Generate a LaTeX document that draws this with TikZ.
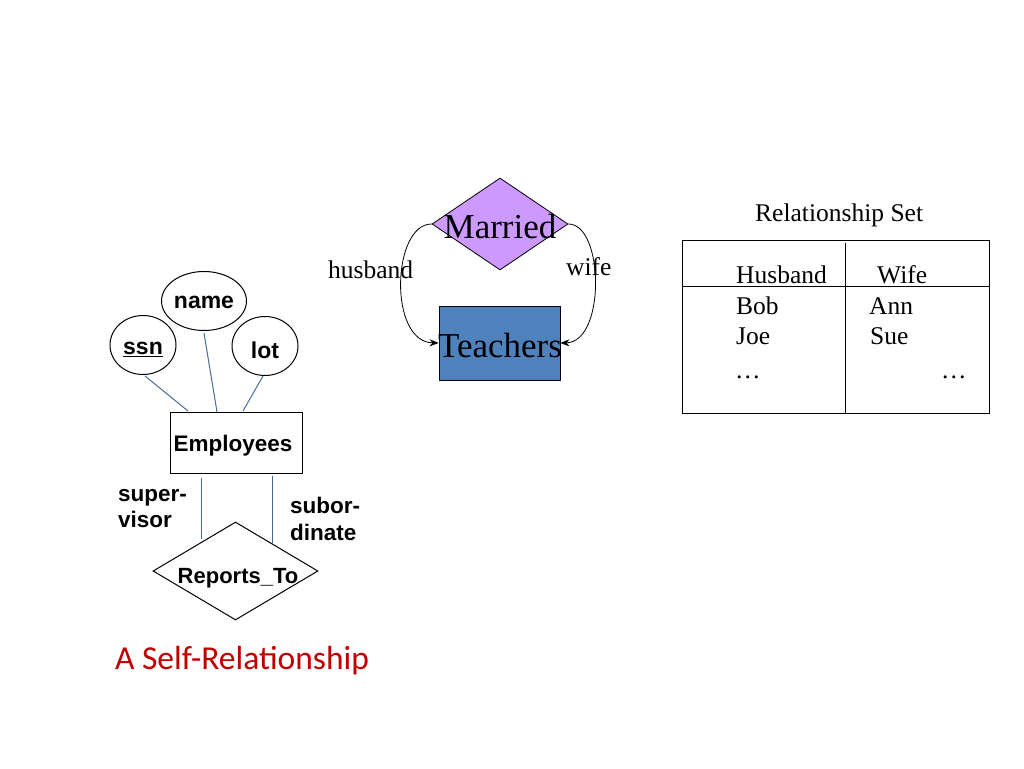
\documentclass[tikz,border=0pt]{standalone}
\usepackage{fontspec}
\setmainfont{Liberation Serif}
\newfontfamily\arialf{Liberation Sans}
\newfontfamily\calib{Carlito}
\usetikzlibrary{shapes.geometric,arrows.meta}
\definecolor{marriedc}{HTML}{CC99FF}
\definecolor{teachc}{HTML}{4F81BD}
\definecolor{linec}{HTML}{4A6A9A}
\definecolor{redc}{HTML}{C00000}
\tikzset{
  attr/.style={draw,ellipse,line width=1pt,minimum width=66pt,minimum height=59pt,inner sep=0pt,text depth=0pt,font=\arialf\bfseries\fontsize{23}{25}\selectfont},
  ent/.style={draw,line width=1pt,inner sep=0pt},
  conn/.style={draw=linec,line width=1pt},
  role/.style={font=\arialf\bfseries\fontsize{22.5}{26.5}\selectfont,align=left,anchor=north west,inner sep=0pt},
  serif/.style={font=\fontsize{25.5}{27}\selectfont,inner sep=0pt,anchor=base west},
  arr/.style={-{Stealth[length=9pt,width=7pt]},line width=0.8pt}
}
\begin{document}
\begin{tikzpicture}[x=1pt,y=-1pt]
\useasboundingbox (0,0) rectangle (1024,768);
% Married / Teachers
\node[diamond,draw,fill=marriedc,minimum width=136pt,minimum height=92pt,inner sep=0pt,line width=0.8pt] (m) at (500,224) {};
\node[font=\fontsize{35}{37}\selectfont,inner sep=0pt] (mt) at (500,227) {Married};
\node[draw,fill=teachc,line width=0.8pt,minimum width=121pt,minimum height=74pt,inner sep=0pt] (t) at (499.5,343) {};
\node[font=\fontsize{35}{37}\selectfont,inner sep=0pt] (tt) at (500,346) {Teachers};
\draw[arr] (m.west) .. controls (392,224) and (388,342) .. (t.west);
\draw[arr] (m.east) .. controls (604,224) and (606,342) .. (t.east);
\node[serif] (hb) at (328,278) {husband};
\node[serif] (wf) at (566,275) {wife};
% Relationship set table
\node[serif] (rs) at (755,221) {Relationship Set};
\node[draw,line width=0.8pt,minimum width=307pt,minimum height=173pt,inner sep=0pt] (tab) at (835.5,326.5) {};
\coordinate (hl) at (682,286);
\coordinate (hr) at (989,286);
\draw[line width=0.8pt] (hl) -- (hr);
\coordinate (vt) at (845,243);
\coordinate (vb) at (845,413);
\draw[line width=0.8pt] (vt) -- (vb);
\node[serif] (c1) at (736,283) {Husband};
\node[serif] (c2) at (877,283) {Wife};
\node[serif] (r1a) at (736,314) {Bob};
\node[serif] (r1b) at (869,314) {Ann};
\node[serif] (r2a) at (736,344) {Joe};
\node[serif] (r2b) at (870,344) {Sue};
\node[serif] (r3a) at (735,378) {\dots};
\node[serif] (r3b) at (941,378) {\dots};
% Employees ER
\node[attr,text height=15pt] (name) at (204,301) {name};
\node[attr,text height=19pt] (ssn) at (143,345) {\underline{ssn}};
\node[attr,text height=24pt] (lot) at (265,346) {lot};
\node[ent,minimum width=132pt,minimum height=61pt] (emp) at (236,442.5) {};
\node[font=\arialf\bfseries\fontsize{22.5}{24}\selectfont,inner sep=0pt] (empt) at (233,446) {Employees};
\coordinate (e1) at (188,411);
\coordinate (e2) at (217,412);
\coordinate (e3) at (243,411);
\draw[conn] (ssn.south) ++(2,1) coordinate (s1) -- (e1);
\draw[conn] (name) ++(0,32) coordinate (n1) -- (e2);
\draw[conn] (lot.south) ++(-2,0) coordinate (l1) -- (e3);
\node[diamond,draw,line width=1pt,minimum width=165pt,minimum height=98pt,inner sep=0pt] (rt) at (235.5,571) {};
\node[font=\arialf\bfseries\fontsize{22}{24}\selectfont,inner sep=0pt] (rtt) at (238,578) {Reports\_To};
\coordinate (a1) at (201,478);
\coordinate (a2) at (201,539);
\coordinate (b1) at (272,476);
\coordinate (b2) at (272,544);
\draw[conn] (a1) -- (a2);
\draw[conn] (b1) -- (b2);
\node[role] (sup) at (118,489) {super-\\visor};
\node[role] (sub) at (290,497) {subor-\\dinate};
\node[font=\calib\fontsize{33.5}{36}\selectfont,text=redc,inner sep=0pt] (title) at (242,661) {A Self-Relationship};
\end{tikzpicture}
\end{document}
